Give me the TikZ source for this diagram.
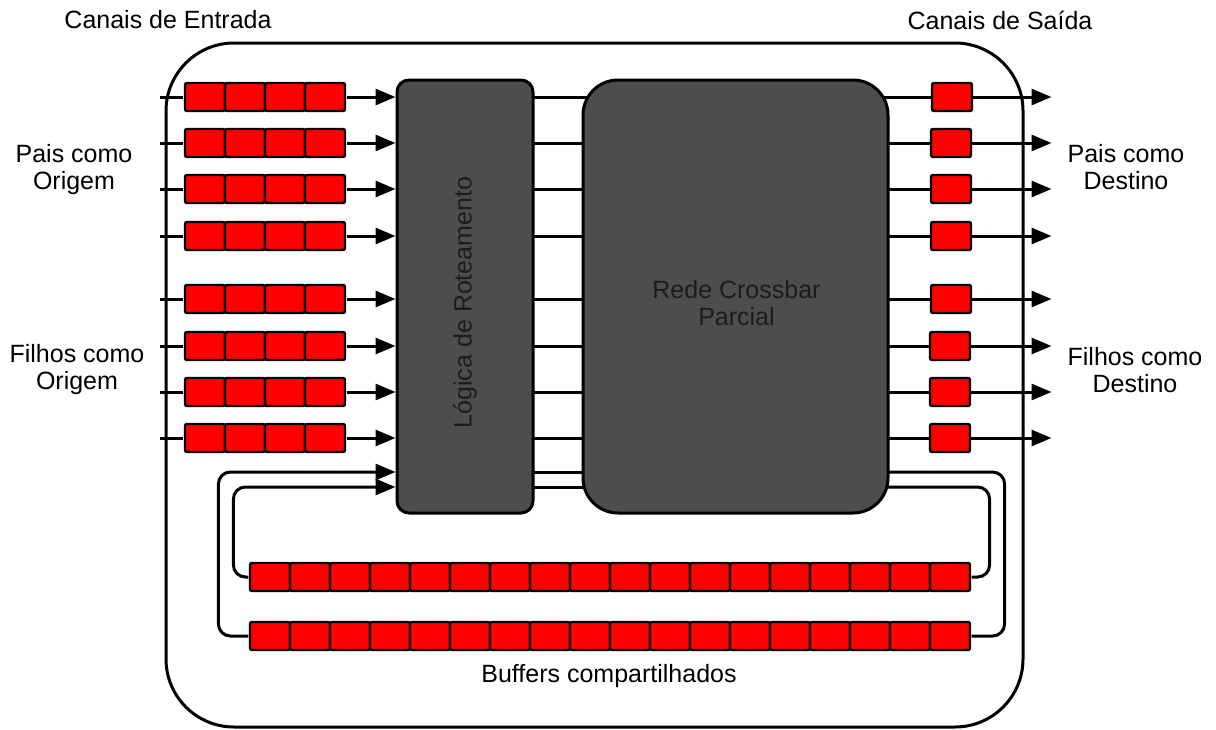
\documentclass[tikz,border=0pt]{standalone}
\usepackage{fontspec}
\setmainfont{Liberation Sans}
\usetikzlibrary{matrix,positioning,arrows.meta,backgrounds}
\definecolor{bufred}{RGB}{255,0,0}
\definecolor{boxgray}{RGB}{77,77,77}
\definecolor{boxtext}{RGB}{28,28,28}
\tikzset{
bufcell/.style={
  draw,
  fill=bufred,
  line width=1.2pt,
  rounded corners=1pt,
  minimum width=20pt,
  minimum height=14pt,
  inner sep=0pt
  },
bufrow/.style={
  matrix of nodes,
  nodes in empty cells,
  nodes={bufcell},
  column sep=-1.2pt,
  inner sep=0pt
  },
blockbox/.style={
  draw,
  fill=boxgray,
  line width=1.5pt,
  text=boxtext,
  inner sep=0pt,
  minimum height=216.5pt
  },
wire/.style={line width=1.5pt}
}

\begin{document}
\begin{tikzpicture}[x=0.5pt,y=-0.5pt,>={Triangle[length=10pt,width=8pt]},
  font=\fontsize{12.5}{13.5}\selectfont]
\useasboundingbox (0,0) rectangle (1216,729);

\node[draw,line width=1.5pt,rounded corners=34pt,minimum width=428.5pt,
  minimum height=342pt] (router) at (594.5,385) {};

\node[blockbox,rounded corners=6pt,minimum width=68pt,
  label={[rotate=90,text=boxtext,xshift=-3pt]center:Lógica de Roteamento}]
  (logic) at (465,296.5) {};
\node[blockbox,rounded corners=17.5pt,minimum width=152.5pt,
  label={[align=center,text=boxtext,xshift=0.5pt,yshift=-3.5pt]center:Rede Crossbar\\Parcial}]
  (xbar) at (735.5,296.5) {};

% canais de entrada
\matrix[bufrow] at (265,97) (in1) {&&&\\};
\matrix[bufrow] at (265,143) (in2) {&&&\\};
\matrix[bufrow] at (265,189) (in3) {&&&\\};
\matrix[bufrow] at (265,236) (in4) {&&&\\};
\matrix[bufrow] at (265,299) (in5) {&&&\\};
\matrix[bufrow] at (265,346) (in6) {&&&\\};
\matrix[bufrow] at (265,392) (in7) {&&&\\};
\matrix[bufrow] at (265,438) (in8) {&&&\\};

% canais de saida
\node[bufcell] (out1) at (952,97) {};
\node[bufcell] (out2) at (951,143) {};
\node[bufcell] (out3) at (951,189) {};
\node[bufcell] (out4) at (951,236) {};
\node[bufcell] (out5) at (951,299) {};
\node[bufcell] (out6) at (950,346) {};
\node[bufcell] (out7) at (950,392) {};
\node[bufcell] (out8) at (950,438) {};

% buffers compartilhados
\matrix[bufrow] at (610,577) (sh1) {&&&&&&&&&&&&&&&&&\\};
\matrix[bufrow] at (610,636) (sh2) {&&&&&&&&&&&&&&&&&\\};

\node (inlbl) at (168,20) {Canais de Entrada};
\node (outlbl) at (1000,20) {Canais de Saída};
\node[align=center] (paisin) at (74,170) {Pais como\\Origem};
\node[align=center] (filhosin) at (77,370) {Filhos como\\Origem};
\node[align=center] (paisout) at (1126,167) {Pais como\\Destino};
\node[align=center] (filhosout) at (1135,370) {Filhos como\\Destino};
\node (shlbl) at (609,676) {Buffers compartilhados};

\coordinate (fbA) at (0,472);
\coordinate (fbB) at (0,487);

\begin{scope}[on background layer]
\begin{scope}[wire]
\foreach \i in {1,...,8}{
  \coordinate (src\i) at ([xshift=-11.5pt]in\i.west);
  \coordinate (tip\i) at ([xshift=-0.75pt]1053,0 |- out\i.east);
  \draw (src\i) -- (in\i.west);
  \draw[->] (in\i.east) -- (logic.west |- in\i.east);
  \draw (logic.center |- in\i.east) -- (xbar.center |- in\i.east);
  \draw (xbar.center |- out\i) -- (out\i.west);
  \draw[->] (out\i.east) -- (out\i.east -| tip\i);
}
\draw (logic.center |- fbA) -- (xbar.center |- fbA);
\draw (logic.center |- fbB) -- (xbar.center |- fbB);

\draw[rounded corners=6pt] (xbar.center |- fbA) -| ([xshift=16.5pt]sh2.east) -- (sh2.east);
\draw[rounded corners=6pt] (xbar.center |- fbB) -| ([xshift=9pt]sh1.east) -- (sh1.east);
\draw[->,rounded corners=6pt] (sh2.west) -- ([xshift=-15pt]sh2.west) |- (logic.west |- fbA);
\draw[->,rounded corners=6pt] (sh1.west) -- ([xshift=-7.5pt]sh1.west) |- (logic.west |- fbB);
\end{scope}
\end{scope}
\end{tikzpicture}
\end{document}
